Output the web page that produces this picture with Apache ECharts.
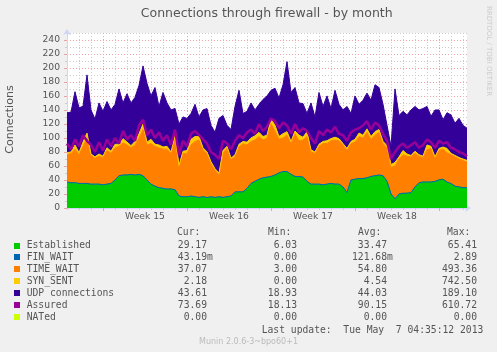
<!DOCTYPE html>
<html>
<head>
<meta charset="utf-8">
<title>Connections through firewall - by month</title>
<script src="https://cdn.jsdelivr.net/npm/echarts@6/dist/echarts.min.js"></script>
<style>
  html, body { margin: 0; padding: 0; background: #f0f0f0; }
  #chart { width: 497px; height: 352px; }
</style>
</head>
<body>
<div id="chart"></div>
<script>
// one sample every 8 hours (1/3 day), 33 days on the x axis
const steps = Array.from({ length: 101 }, (_, i) => String(i))
const weekTicks = [9, 30, 51, 72, 93]
const weekLabelPos = [19.5, 40.5, 61.5, 82.5]
const weekLabels = ['Week 15', 'Week 16', 'Week 17', 'Week 18']
const yTicks = [0, 20, 40, 60, 80, 100, 120, 140, 160, 180, 200, 220, 240]

// stacked, bottom to top
const established = [
  37, 36, 36, 35, 35, 35, 34, 34, 34, 33,
  34, 35, 40, 46, 47, 47, 48, 47, 48, 46,
  40, 34, 31, 29, 28, 27, 27, 26, 17, 16,
  16, 17, 16, 15, 16, 15, 16, 15, 16, 15,
  16, 17, 23, 23, 23, 28, 35, 38, 41, 43,
  44, 45, 47, 50, 52, 52, 48, 45, 45, 44,
  38, 34, 34, 34, 33, 34, 35, 34, 34, 30,
  22, 40, 41, 42, 42, 43, 45, 46, 47, 46,
  38, 20, 13, 20, 21, 21, 22, 30, 36, 37,
  37, 37, 38, 40, 41, 37, 35, 31, 30, 29,
  29
]
const finWait = [
  0.1, 0.0, 0.1, 0.1, 0.2, 0.1, 0.0, 0.1, 0.1, 0.1,
  0.1, 0.1, 0.0, 0.1, 0.1, 0.2, 0.1, 0.1, 0.1, 0.0,
  0.1, 0.1, 0.1, 0.0, 0.1, 0.1, 0.1, 0.2, 0.1, 0.1,
  0.0, 0.1, 0.1, 0.1, 0.1, 0.0, 0.1, 0.1, 0.1, 0.1,
  0.1, 0.2, 0.1, 0.1, 0.0, 0.1, 0.1, 0.1, 0.1, 0.1,
  0.0, 0.1, 0.1, 0.2, 0.1, 0.1, 0.1, 0.0, 0.1, 0.1,
  0.1, 0.1, 0.0, 0.1, 0.1, 0.1, 0.2, 0.1, 0.1, 0.0,
  0.1, 0.1, 0.1, 0.1, 0.0, 0.1, 0.1, 0.1, 0.1, 0.2,
  0.1, 0.0, 0.1, 0.1, 0.1, 0.1, 0.0, 0.1, 0.1, 0.1,
  0.1, 0.1, 0.0, 0.1, 0.1, 0.1, 0.0, 0.1, 0.1, 0.0,
  0.0
]
const timeWait = [
  39, 42, 48, 41, 53, 65, 41, 37, 40, 39,
  48, 43, 46, 42, 46, 43, 38, 43, 52, 66,
  50, 58, 57, 57, 56, 57, 51, 71, 42, 62,
  62, 73, 79, 82, 67, 63, 48, 39, 31, 63,
  69, 52, 50, 64, 69, 62, 60, 59, 61, 54,
  56, 75, 63, 48, 48, 52, 44, 61, 51, 53,
  64, 46, 44, 54, 59, 58, 61, 63, 62, 60,
  60, 52, 53, 60, 58, 65, 53, 58, 61, 46,
  48, 38, 47, 50, 55, 53, 51, 48, 38, 35,
  46, 48, 33, 42, 43, 42, 41, 42, 40, 39,
  37
]
const synSent = [
  3, 2, 6, 3, 6, 7, 2, 2, 3, 2,
  4, 3, 5, 3, 6, 4, 3, 5, 6, 8,
  4, 6, 3, 4, 3, 4, 2, 6, 2, 3,
  4, 8, 7, 5, 3, 2, 2, 2, 3, 4,
  3, 2, 3, 4, 3, 4, 5, 6, 6, 5,
  4, 7, 8, 4, 6, 5, 3, 4, 8, 4,
  7, 3, 2, 3, 3, 4, 3, 4, 3, 2,
  3, 3, 4, 5, 4, 5, 4, 5, 4, 3,
  3, 4, 5, 3, 6, 3, 2, 3, 2, 2,
  7, 3, 2, 3, 3, 6, 2, 2, 2, 2,
  2
]
const udp = [
  57, 57, 76, 64, 51, 83, 63, 54, 73, 64,
  66, 59, 57, 79, 51, 69, 61, 63, 69, 83,
  84, 62, 81, 55, 78, 62, 60, 39, 59, 49,
  46, 37, 46, 28, 54, 62, 52, 52, 78, 50,
  30, 41, 69, 77, 40, 44, 50, 37, 40, 53,
  56, 41, 53, 55, 70, 100, 70, 62, 46, 48,
  26, 67, 50, 74, 50, 64, 43, 67, 49, 48,
  60, 40, 62, 41, 50, 51, 52, 67, 60, 53,
  29, 26, 105, 59, 56, 56, 65, 64, 64, 68,
  55, 43, 67, 55, 39, 51, 55, 46, 56, 48,
  46
]
// drawn as a line, not stacked
const assured = [
  92, 84, 98, 88, 104, 96, 90, 80, 94, 82,
  98, 88, 100, 92, 110, 98, 104, 96, 118, 126,
  104, 112, 100, 108, 96, 104, 90, 112, 76, 96,
  88, 106, 110, 104, 98, 92, 80, 76, 70, 96,
  92, 84, 96, 104, 100, 108, 112, 106, 120, 110,
  116, 128, 124, 114, 122, 118, 106, 120, 108, 114,
  110, 100, 92, 110, 104, 112, 108, 116, 106, 104,
  96, 108, 112, 114, 118, 124, 112, 122, 118, 106,
  96, 70, 80, 88, 92, 86, 90, 94, 86, 90,
  98, 94, 86, 96, 92, 94, 86, 84, 80, 78,
  74
]

const legendNames = ['Established', 'FIN_WAIT', 'TIME_WAIT', 'SYN_SENT', 'UDP connections', 'Assured', 'NATed']
const legendColors = ['#00CC00', '#0066B3', '#FF8000', '#FFCC00', '#330099', '#990099', '#CCFF00']
const curVals = ['29.17', '43.19m', '37.07', '2.18', '43.61', '73.69', '0.00']
const minVals = ['6.03', '0.00', '3.00', '0.00', '18.93', '18.13', '0.00']
const avgVals = ['33.47', '121.68m', '54.80', '4.54', '44.03', '90.15', '0.00']
const maxVals = ['65.41', '2.89', '493.36', '742.50', '189.10', '610.72', '0.00']
const lastUpdate = 'Last update:  Tue May  7 04:35:12 2013'

const INK = '#555'
const SANS = '"DejaVu Sans", sans-serif'
const MONO = '9.7px "DejaVu Sans Mono", monospace'
const GRID_MINOR = '#cccccc'
const GRID_MAJOR = '#eba3a3'
const AXIS = '#CFD6F8'

function txt(text, x, y, font, fill, align, rotation) {
  return {
    type: 'text', x, y, rotation: rotation || 0, silent: true,
    style: { text, font, fill, align: align || 'left', verticalAlign: 'middle' }
  }
}

const graphics = [
  txt('Connections through firewall - by month', 266.7, 13.3, '12.5px ' + SANS, INK, 'center'),
  txt('Connections', 10.5, 119.5, '11.1px ' + SANS, INK, 'center', Math.PI / 2),
  txt('RRDTOOL / TOBI OETIKER', 488.5, 51, '7px ' + SANS, '#cccccc', 'center', -Math.PI / 2),
  txt('Cur:', 177, 232.7, MONO, INK),
  txt('Min:', 268, 232.7, MONO, INK),
  txt('Avg:', 358, 232.7, MONO, INK),
  txt('Max:', 447, 232.7, MONO, INK),
  txt(lastUpdate, 261.7, 330, MONO, INK),
  txt('Munin 2.0.6-3~bpo60+1', 248.5, 341.7, '8px ' + SANS, '#bbbbbb', 'center')
]
const colEdges = [207, 297, 387, 477]
legendNames.forEach((name, k) => {
  const y = 245.5 + k * 11.95
  graphics.push({
    type: 'rect', silent: true,
    shape: { x: 14, y: Math.round(y) - 3, width: 6, height: 6 },
    style: { fill: legendColors[k] }
  })
  graphics.push(txt(name, 26.7, y, MONO, INK))
  ;[curVals, minVals, avgVals, maxVals].forEach((col, c) => {
    const v = col[k]
    // rrdtool prints the unit suffix one char past the number column
    const edge = colEdges[c] + (v.endsWith('m') ? 5.83 : 0)
    graphics.push(txt(v, edge, y, MONO, INK, 'right'))
  })
})

function stackArea(name, data, color) {
  return {
    name, type: 'line', stack: 'conn', xAxisIndex: 0, yAxisIndex: 0,
    data, symbol: 'none', silent: true,
    lineStyle: { width: 1, color },
    areaStyle: { color, opacity: 1 },
    itemStyle: { color }
  }
}

const isWeekStart = i => weekTicks.includes(i)

const chart = echarts.init(document.getElementById('chart'), null, { renderer: 'canvas' })
chart.setOption({
  animation: false,
  backgroundColor: '#f0f0f0',
  grid: {
    left: 67, right: 30, top: 33, bottom: 144,
    show: true, backgroundColor: '#ffffff', borderWidth: 0
  },
  xAxis: [
    {
      // daily grid
      type: 'category', data: steps, boundaryGap: false, position: 'bottom',
      axisLine: { show: true, lineStyle: { color: AXIS, width: 1 }, symbol: ['none', 'arrow'], symbolSize: [6, 6], symbolOffset: [0, 4] },
      axisTick: { show: true, interval: 2, inside: false, length: 2, lineStyle: { color: GRID_MINOR } },
      axisLabel: { show: false, interval: 2 },
      splitLine: { show: true, interval: 2, lineStyle: { color: GRID_MINOR, type: [1, 2], width: 1 } }
    },
    {
      // week starts
      type: 'category', data: steps, boundaryGap: false, position: 'bottom',
      axisLine: { show: false },
      axisTick: { show: true, interval: isWeekStart, length: 3, lineStyle: { color: GRID_MAJOR } },
      axisLabel: { show: false },
      splitLine: { show: true, interval: isWeekStart, lineStyle: { color: GRID_MAJOR, type: [1, 2], width: 1 } }
    },
    {
      // week names, centred in each week
      type: 'value', min: 0, max: 100, position: 'bottom',
      axisLine: { show: false },
      axisTick: { show: false },
      splitLine: { show: false },
      axisLabel: {
        show: true, customValues: weekLabelPos, margin: 4,
        fontSize: 9.2, fontFamily: 'DejaVu Sans', color: INK,
        formatter: v => weekLabels[weekLabelPos.indexOf(v)] || ''
      }
    }
  ],
  yAxis: [
    {
      type: 'value', min: 0, max: 250, interval: 10, position: 'left',
      axisLine: { show: true, lineStyle: { color: AXIS, width: 1 }, symbol: ['none', 'arrow'], symbolSize: [6, 6], symbolOffset: [0, 4] },
      axisTick: { show: true, length: 2, lineStyle: { color: GRID_MINOR } },
      axisLabel: { show: false },
      splitLine: { show: true, lineStyle: { color: GRID_MINOR, type: [1, 2], width: 1 } }
    },
    {
      type: 'value', min: 0, max: 250, position: 'left',
      axisLine: { show: false },
      axisTick: { show: true, length: 3, customValues: yTicks, lineStyle: { color: GRID_MAJOR } },
      axisLabel: {
        show: true, customValues: yTicks, margin: 7,
        fontSize: 9.2, fontFamily: 'DejaVu Sans', color: INK
      },
      splitLine: { show: true, lineStyle: { color: GRID_MAJOR, type: [1, 2], width: 1 } }
    }
  ],
  series: [
    stackArea('Established', established, legendColors[0]),
    stackArea('FIN_WAIT', finWait, legendColors[1]),
    stackArea('TIME_WAIT', timeWait, legendColors[2]),
    stackArea('SYN_SENT', synSent, legendColors[3]),
    stackArea('UDP connections', udp, legendColors[4]),
    {
      name: 'Assured', type: 'line', xAxisIndex: 0, yAxisIndex: 0,
      data: assured, symbol: 'none', silent: true, z: 3,
      lineStyle: { width: 2.5, color: legendColors[5] }
    }
  ],
  graphic: graphics
})
window.addEventListener('resize', () => chart.resize())
</script>
</body>
</html>
